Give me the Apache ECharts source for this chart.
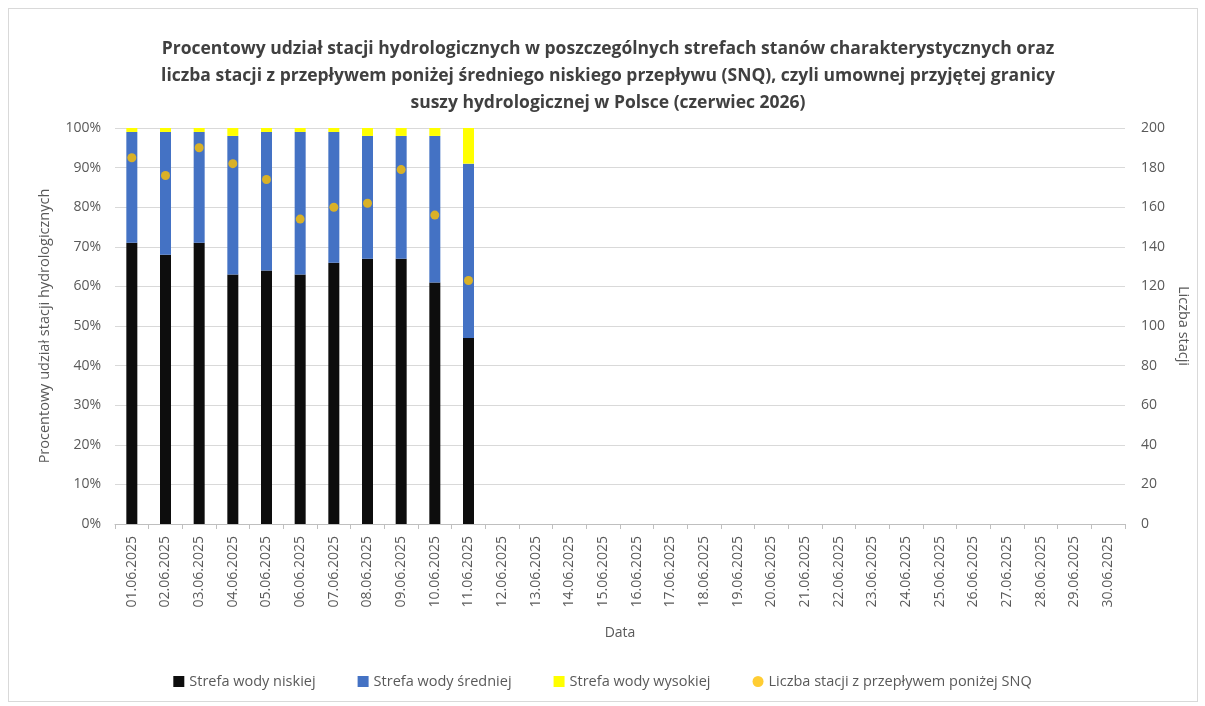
<!DOCTYPE html>
<html><head><meta charset="utf-8">
<script src="https://cdn.jsdelivr.net/npm/echarts@6/dist/echarts.min.js"></script>
<style>html,body{margin:0;padding:0;background:#fff;}#c{width:1205px;height:706px;}
#frame{position:absolute;left:8px;top:8px;width:1190px;height:694px;border:1px solid #d9d9d9;box-sizing:border-box;pointer-events:none;}</style>
</head><body><div id="c"></div><div id="frame"></div>
<script>
const dates = [];
for (let d = 1; d <= 30; d++) dates.push((d < 10 ? '0' + d : '' + d) + '.06.2025');
const lowZone  = [71, 68, 71, 63, 64, 63, 66, 67, 67, 61, 47];
const midZone  = [28, 31, 28, 35, 35, 36, 33, 31, 31, 37, 44];
const highZone = [1, 1, 1, 2, 1, 1, 1, 2, 2, 2, 9];
const belowSNQ = [185, 176, 190, 182, 174, 154, 160, 162, 179, 156, 123];
const leftTicks = [0, 10, 20, 30, 40, 50, 60, 70, 80, 90, 100];
const rightTicks = [0, 20, 40, 60, 80, 100, 120, 140, 160, 180, 200];

const font = 'Open Sans';
const txt = '#595959';
const chart = echarts.init(document.getElementById('c'));
chart.setOption({
  animation: false,
  title: {
    text: 'Procentowy udział stacji hydrologicznych w poszczególnych strefach stanów charakterystycznych oraz\nliczba stacji z przepływem poniżej średniego niskiego przepływu (SNQ), czyli umownej przyjętej granicy\nsuszy hydrologicznej w Polsce (czerwiec 2026)',
    left: 603, top: 31, textAlign: 'center',
    textStyle: {fontFamily: font, fontSize: 17.5, fontWeight: 'bold', color: '#404040', lineHeight: 27, align: 'center'}
  },
  legend: {
    bottom: 12, left: 'center', itemGap: 42, itemWidth: 11, itemHeight: 11,
    textStyle: {fontFamily: font, fontSize: 14.5, color: txt},
    data: [
      {name: 'Strefa wody niskiej', icon: 'rect'},
      {name: 'Strefa wody średniej', icon: 'rect'},
      {name: 'Strefa wody wysokiej', icon: 'rect'},
      {name: 'Liczba stacji z przepływem poniżej SNQ', icon: 'circle'}
    ]
  },
  grid: {left: 115, right: 80, top: 128, bottom: 182},
  xAxis: {
    type: 'category', data: dates, boundaryGap: true,
    name: 'Data', nameLocation: 'middle', nameGap: 102,
    nameTextStyle: {fontFamily: font, fontSize: 14, color: txt},
    axisLine: {lineStyle: {color: '#bfbfbf'}},
    axisTick: {show: true, alignWithLabel: false, length: 5, lineStyle: {color: '#bfbfbf'}},
    axisLabel: {rotate: 90, interval: 0, fontFamily: font, fontSize: 14, color: txt, margin: 12}
  },
  yAxis: [
    {type: 'value', min: 0, max: 100, interval: 10,
     name: 'Procentowy udział stacji hydrologicznych', nameLocation: 'middle', nameGap: 63,
     nameTextStyle: {fontFamily: font, fontSize: 14.5, color: txt},
     axisLabel: {formatter: v => v + '%', fontFamily: font, fontSize: 14, color: txt, margin: 14},
     axisLine: {show: false}, axisTick: {show: false},
     splitLine: {lineStyle: {color: '#d9d9d9'}}},
    {type: 'value', min: 0, max: 200, interval: 20,
     name: 'Liczba stacji', nameLocation: 'middle', nameGap: 51, nameRotate: -90,
     nameTextStyle: {fontFamily: font, fontSize: 14.5, color: txt},
     axisLabel: {fontFamily: font, fontSize: 14, color: txt, margin: 16},
     axisLine: {show: false}, axisTick: {show: false}, splitLine: {show: false}}
  ],
  series: [
    {name: 'Strefa wody niskiej', type: 'bar', stack: 's', data: lowZone, barWidth: 11,
     itemStyle: {color: '#0d0d0d'}},
    {name: 'Strefa wody średniej', type: 'bar', stack: 's', data: midZone, barWidth: 11,
     itemStyle: {color: '#4472c4'}},
    {name: 'Strefa wody wysokiej', type: 'bar', stack: 's', data: highZone, barWidth: 11,
     itemStyle: {color: '#ffff00'}},
    {name: 'Liczba stacji z przepływem poniżej SNQ', type: 'scatter', yAxisIndex: 1, data: belowSNQ,
     symbol: 'circle', symbolSize: 9, itemStyle: {color: '#ffc000'}, z: 5}
  ]
});
</script></body></html>
